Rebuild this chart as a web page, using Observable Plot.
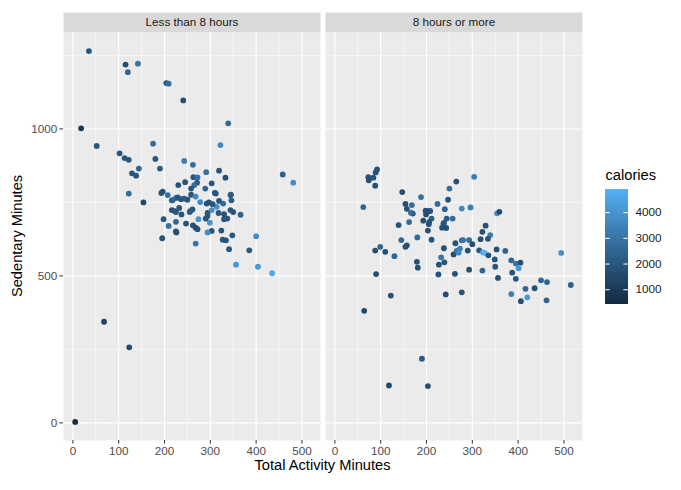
<!DOCTYPE html>
<html>
<head>
<meta charset="utf-8">
<script src="https://cdn.jsdelivr.net/npm/d3@7"></script>
<script src="https://cdn.jsdelivr.net/npm/@observablehq/plot@0.6"></script>
<style>
  body { margin: 0; background: #fff; }
  #wrap { position: relative; width: 681px; height: 490px; font-family: "Liberation Sans", Arial, sans-serif; background: #fff; }
  #main { position: absolute; left: 0; top: 0; }
  #legend { position: absolute; left: 600px; top: 160px; }
</style>
</head>
<body>
<div id="wrap"><div id="main"></div><div id="legend"></div></div>
<script>
// ---------- data ----------
const groups = ["Less than 8 hours", "8 hours or more"];

// Facet 1: Less than 8 hours
const lessActivity = [35,115,142,120,204,209,241,339,18,52,175,322,102,113,122,180,144,190,243,262,129,138,319,291,333,263,272,458,481,230,245,271,265,303,289,258,310,345,122,193,196,207,258,268,225,229,216,236,250,278,292,297,319,328,346,154,216,225,237,255,261,294,303,314,318,330,344,350,366,198,225,209,247,274,299,290,330,262,225,226,268,272,294,303,294,324,348,327,334,268,195,341,385,400,356,404,435,68,123,5,232,243,218,337,256,305,312,344,223];
const lessSedentary = [1265,1219,1222,1193,1156,1154,1097,1019,1002,942,950,945,917,901,895,898,865,865,891,878,849,841,858,853,834,836,835,845,817,809,819,817,809,815,797,797,782,776,780,782,787,775,776,770,765,767,757,761,759,751,746,750,755,746,757,750,724,717,709,717,726,714,724,735,714,710,724,717,708,693,684,670,678,693,681,695,693,672,651,648,664,659,704,653,648,654,638,623,621,610,628,591,587,635,538,531,509,344,257,3,731,763,758,695,720,744,780,775,720];
const lessCalories = [1900,1700,2900,2600,1800,2800,1700,2700,900,2000,2800,3700,1900,2000,2000,2000,2500,2200,3300,2800,2000,2000,1900,2900,1800,2000,2900,2300,3800,1800,2000,2200,2700,2000,2500,2000,1800,2200,2700,1900,1800,2800,2000,3600,2800,2000,2100,2000,1900,3700,2000,1800,2000,2700,2200,1500,1800,2000,1900,2300,2000,1900,3800,3900,2000,1900,2000,1900,2400,2000,2600,2900,1800,4100,4000,1900,2000,1800,1800,1800,1700,1700,2000,1900,3700,1900,2000,2200,1800,3000,1800,2000,2100,3800,4000,4100,4600,1300,1600,426,2000,2100,2300,1900,2200,2000,2000,2100,2000];

// Facet 2: 8 hours or more
const moreActivity = [92,89,73,74,84,88,265,304,147,250,188,62,154,168,157,170,166,198,205,199,211,193,224,247,240,277,296,244,257,237,234,243,139,162,203,211,180,145,157,154,99,88,110,130,179,181,90,122,64,238,232,239,227,226,242,262,277,263,259,266,273,270,277,280,293,300,290,293,315,323,327,335,318,322,329,339,334,354,359,353,349,350,322,356,372,385,395,405,401,387,395,385,406,420,416,436,450,463,462,494,515,190,118,203,208,201,206,205,238];
const moreSedentary = [862,852,836,825,834,807,821,837,785,797,768,734,745,741,728,712,715,722,720,709,695,688,745,759,727,729,733,695,695,678,664,663,673,683,654,623,631,622,604,599,599,586,582,567,548,528,506,433,381,594,563,546,538,505,437,507,444,611,573,585,593,579,621,622,622,608,586,521,587,580,578,570,625,650,671,639,626,713,718,590,556,531,518,493,585,553,542,545,526,511,490,438,414,427,456,458,485,479,417,578,469,218,127,125,721,717,684,676,680];
const moreCalories = [1800,1800,1800,1700,1900,1800,1700,3300,1700,2800,2900,2600,1800,2800,1700,1800,2700,1800,1700,1700,2200,1800,2700,1900,2500,3600,3200,2000,2700,1900,1800,1800,1800,2700,1800,1900,2600,2500,1800,1800,2500,1700,1800,2600,1800,1800,1700,1800,1500,1800,3000,1900,1800,1900,1700,1800,1900,1900,1700,2800,3400,3600,2600,3000,2700,1800,1800,1800,2000,4300,4900,1900,1800,1800,1800,3300,1900,3800,1600,1800,1900,1900,2500,1800,2500,2500,3000,1700,4000,2000,2000,3300,1800,4200,2500,1800,2600,2500,2500,3900,2400,2100,1500,1700,1900,1700,2000,1800,2000];

const xTicks = [0, 100, 200, 300, 400, 500];
const xMinor = [50, 150, 250, 350, 450];
const yTicks = [0, 500, 1000];
const yMinor = [250, 750, 1250];
const calTicks = [1000, 2000, 3000, 4000];

// ---------- build table ----------
const data = [
  ...lessActivity.map((x, i) => ({group: groups[0], activity: x, sedentary: lessSedentary[i], calories: lessCalories[i]})),
  ...moreActivity.map((x, i) => ({group: groups[1], activity: x, sedentary: moreSedentary[i], calories: moreCalories[i]}))
];
const calExt = d3.extent(data, d => d.calories);
const xExt = d3.extent(data, d => d.activity);
const yExt = d3.extent(data, d => d.sedentary);
const xPad = (xExt[1] - xExt[0]) * 0.05, yPad = (yExt[1] - yExt[0]) * 0.05;

const colorOpts = {type: "linear", domain: calExt, range: ["#132B43", "#56B1F7"], interpolate: "lab"};
const FONT = "'Liberation Sans', Arial, Helvetica, sans-serif";
const fmt = d => String(d);

const W = 590, H = 490, MT = 32, MB = 50, ML = 62, MR = 7;
const main = Plot.plot({
  width: W, height: H,
  marginTop: MT, marginBottom: MB, marginLeft: ML, marginRight: MR,
  style: {fontFamily: FONT, fontSize: "11.7px", background: "white", overflow: "visible"},
  fx: {domain: groups, paddingInner: 0.019, paddingOuter: 0, axis: null, label: null},
  x: {domain: [xExt[0] - xPad, xExt[1] + xPad], label: null},
  y: {domain: [yExt[0] - yPad, yExt[1] + yPad], label: null},
  color: colorOpts,
  marks: [
    Plot.frame({fill: "#EBEBEB"}),
    Plot.frame({fill: "#D9D9D9", insetTop: -20, insetBottom: H - MT - MB}),
    Plot.text(groups, {fx: d => d, text: d => d, frameAnchor: "top", lineAnchor: "middle", dy: -10.5, fill: "#1A1A1A", fontSize: 11.7}),
    Plot.gridX(xMinor, {stroke: "white", strokeOpacity: 1, strokeWidth: 0.55}),
    Plot.gridY(yMinor, {stroke: "white", strokeOpacity: 1, strokeWidth: 0.55}),
    Plot.gridX(xTicks, {stroke: "white", strokeOpacity: 1, strokeWidth: 1.1}),
    Plot.gridY(yTicks, {stroke: "white", strokeOpacity: 1, strokeWidth: 1.1}),
    Plot.axisX(xTicks, {tickSize: 3.7, tickPadding: 2.5, tickFormat: fmt, stroke: "#333333", color: "#4D4D4D", fill: "#4D4D4D", fontSize: 11.7, label: null}),
    Plot.axisY(yTicks, {tickSize: 3.7, tickPadding: 2.5, tickFormat: fmt, stroke: "#333333", color: "#4D4D4D", fill: "#4D4D4D", fontSize: 11.7, label: null}),
    Plot.dot(data, {fx: "group", x: "activity", y: "sedentary", fill: "calories", r: 2.9})
  ]
});

const svg = d3.select(main);
svg.append("text")
  .attr("x", ML + (W - ML - MR) / 2).attr("y", 466)
  .attr("text-anchor", "middle").attr("dominant-baseline", "middle")
  .attr("font-size", "14.67px").attr("fill", "black").attr("font-family", FONT)
  .text("Total Activity Minutes");
svg.append("text")
  .attr("transform", `translate(18,${MT + (H - MT - MB) / 2}) rotate(-90)`)
  .attr("text-anchor", "middle").attr("dominant-baseline", "middle")
  .attr("font-size", "14.67px").attr("fill", "black").attr("font-family", FONT)
  .text("Sedentary Minutes");
document.getElementById("main").appendChild(main);

// ---------- legend (colour bar) ----------
const nSteps = 115;
const stepSize = (calExt[1] - calExt[0]) / nSteps;
const steps = d3.range(nSteps).map(i => calExt[0] + i * stepSize);
const legend = Plot.plot({
  width: 81, height: 160,
  marginTop: 29, marginBottom: 16, marginLeft: 5, marginRight: 53,
  style: {fontFamily: FONT, background: "transparent", overflow: "visible"},
  x: {domain: [0, 1], axis: null},
  y: {domain: calExt, axis: null},
  color: colorOpts,
  marks: [
    Plot.rect(steps, {x1: () => 0, x2: () => 1, y1: d => d, y2: d => Math.min(d + stepSize * 2.5, calExt[1]), fill: d => d + stepSize / 2, shapeRendering: "crispEdges"}),
    Plot.ruleY(calTicks, {x1: () => 0, x2: () => 0.2, stroke: "white", strokeWidth: 1}),
    Plot.ruleY(calTicks, {x1: () => 0.8, x2: () => 1, stroke: "white", strokeWidth: 1}),
    Plot.text(calTicks, {x: () => 1, y: d => d, dx: 7, textAnchor: "start", text: d => String(d), fill: "#1A1A1A", fontSize: 11.7}),
    Plot.text(["calories"], {frameAnchor: "top-left", lineAnchor: "middle", dy: -14, textAnchor: "start", text: d => d, fill: "black", fontSize: 14.67})
  ]
});
document.getElementById("legend").appendChild(legend);
</script>
</body>
</html>
